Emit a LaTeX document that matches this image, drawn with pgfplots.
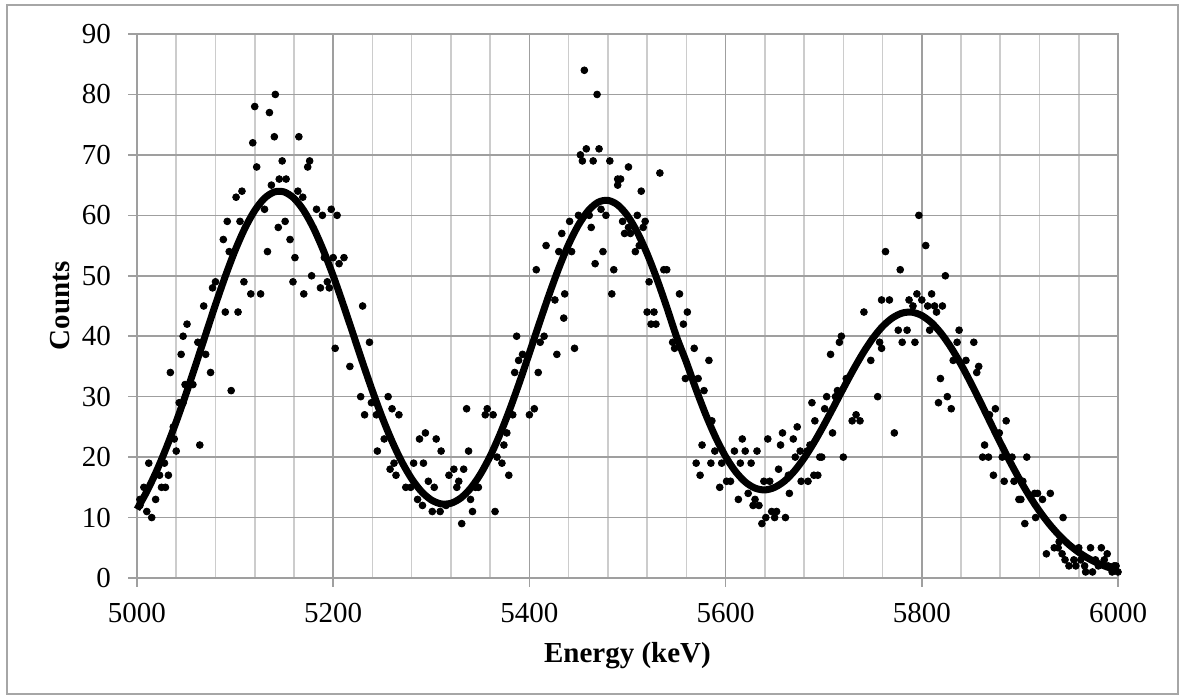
\documentclass[border=0pt]{standalone}
\usepackage{fontspec}
\setmainfont{Liberation Serif}
\usepackage{pgfplots}
\pgfplotsset{compat=1.18}
\begin{document}
\begin{tikzpicture}
\useasboundingbox (-68.5pt,-61pt) rectangle (523.5pt,289pt);
\draw[gray!70, line width=0.8pt] (-65pt,-58pt) rectangle (520.5pt,286.5pt);
\begin{axis}[
  at={(0,0)}, anchor=south west,
  scale only axis, width=490.5pt, height=272pt,
  xmin=5000, xmax=6000, ymin=0, ymax=90,
  xtick={5000,5200,5400,5600,5800,6000},
  minor x tick num=4,
  ytick={0,10,20,30,40,50,60,70,80,90},
  grid=both,
  major grid style={gray!75, line width=0.8pt},
  minor grid style={gray!40, line width=0.8pt},
  axis line style={gray!75, line width=0.8pt},
  tick align=outside,
  major tick length=4.5pt, minor tick length=0pt,
  tick style={gray!75, line width=0.8pt},
  xtick pos=bottom, ytick pos=left,
  /pgf/number format/1000 sep={},
  /pgf/number format/assume math mode=true,
  tick label style={font=\fontsize{14.5}{17}\selectfont, text=black},
  xticklabel style={yshift=-4.5pt},
  yticklabel style={xshift=-5pt},
  xlabel={Energy (keV)}, ylabel={Counts},
  label style={font=\bfseries\fontsize{14.5}{17}\selectfont},
  xlabel style={at={(axis description cs:0.5,-0.1176)}, anchor=north, inner sep=0pt},
  ylabel style={at={(axis description cs:-0.0683,0.5)}, anchor=base, inner sep=0pt},
  clip=false,
]
\addplot[only marks, mark=*, mark size=1.7pt, black] coordinates {
(5141,80)(5120,78)(5135,77)(5118,72)(5140,73)(5165,73)(5122,68)(5148,69)(5145,66)(5152,66)
(5137,65)(5101,63)(5107,64)(5130,61)(5092,59)(5105,59)(5144,58)(5151,59)(5088,56)(5156,56)
(5094,54)(5133,54)(5161,53)(5109,49)(5116,47)(5126,47)(5159,49)(5170,47)(5077,48)(5080,49)
(5090,44)(5103,44)(5068,45)(5051,42)(5047,40)(5062,39)(5066,39)(5070,37)(5045,37)(5034,34)
(5075,34)(5049,32)(5057,32)(5096,31)(5043,29)(5047,29)(5037,25)(5038,23)(5040,21)(5064,22)
(5012,19)(5028,19)(5023,17)(5032,17)(5025,15)(5029,15)(5007,15)(5019,13)(5003,13)(5010,11)
(5015,10)(5003,12)
(5176,69)(5174,68)(5164,64)(5169,63)(5183,61)(5189,60)(5198,61)(5204,60)(5191,53)(5200,53)
(5211,53)(5206,52)(5178,50)(5194,49)(5196,48)(5187,48)(5230,45)(5202,38)(5237,39)(5217,35)
(5228,30)(5256,30)(5260,28)(5267,27)(5232,27)(5239,29)(5244,27)(5252,23)(5245,21)(5288,23)
(5294,24)(5305,23)(5310,21)(5336,28)(5338,21)(5258,18)(5262,19)(5264,17)(5282,19)(5292,19)
(5274,15)(5279,15)(5297,16)(5303,15)(5286,13)(5291,12)(5301,11)(5309,11)(5315,12)(5331,9)
(5318,17)(5323,18)(5333,18)(5326,15)(5328,16)(5340,13)(5342,11)
(5456,84)(5469,80)(5452,70)(5458,71)(5471,71)(5454,69)(5465,69)(5482,69)(5501,68)(5490,66)
(5493,66)(5490,65)(5514,64)(5473,61)(5478,60)(5461,60)(5463,58)(5450,60)(5441,59)(5495,59)
(5501,58)(5503,57)(5497,57)(5510,60)(5508,54)(5417,55)(5433,57)(5430,54)(5443,54)(5475,54)
(5467,52)(5486,51)(5484,47)(5407,51)(5436,47)(5426,46)(5435,43)(5415,40)(5411,39)(5387,40)
(5428,37)(5446,38)(5409,34)(5385,34)(5389,36)(5393,37)(5405,28)(5400,27)(5383,27)(5363,27)
(5355,27)(5357,28)(5377,24)(5374,22)(5367,20)(5372,19)(5379,17)(5348,15)(5345,15)(5365,11)
(5533,67)(5518,59)(5516,58)(5512,55)(5537,51)(5540,51)(5522,49)(5553,47)(5520,44)(5527,44)
(5561,44)(5524,42)(5529,42)(5557,42)(5546,39)(5548,38)(5568,38)(5583,36)(5559,33)(5572,33)
(5578,31)(5586,26)(5576,22)(5570,19)(5585,19)(5574,17)(5589,21)(5596,19)(5609,21)(5620,21)
(5632,21)(5615,19)(5626,19)(5617,23)(5594,15)(5601,16)(5605,16)(5613,13)(5623,14)(5628,12)
(5630,13)(5634,12)(5637,9)(5641,10)(5647,11)(5652,11)(5650,10)(5661,10)(5639,16)(5645,16)
(5643,23)(5656,22)(5658,24)(5669,23)(5673,25)(5654,18)(5665,14)(5664,17)(5671,20)(5676,21)
(5683,21)(5686,22)(5677,16)(5684,16)(5688,29)(5691,26)
(5797,60)(5804,55)(5763,54)(5778,51)(5824,50)(5759,46)(5767,46)(5741,44)(5787,46)(5795,47)
(5800,46)(5791,45)(5806,45)(5810,47)(5813,45)(5821,45)(5815,44)(5776,41)(5785,41)(5780,39)
(5793,39)(5808,41)(5838,41)(5836,39)(5853,39)(5759,38)(5748,36)(5757,39)(5707,37)(5716,39)
(5718,40)(5832,36)(5845,36)(5858,35)(5856,34)(5819,33)(5723,33)(5714,31)(5703,30)(5712,30)
(5755,30)(5817,29)(5826,30)(5830,28)(5701,28)(5729,26)(5733,27)(5737,26)(5709,24)(5772,24)
(5864,22)(5862,20)(5696,20)(5698,20)(5720,20)(5690,17)(5694,17)
(5875,28)(5869,27)(5886,26)(5879,24)(5868,20)(5882,20)(5892,20)(5907,20)(5873,17)(5884,16)
(5894,16)(5903,16)(5899,13)(5901,13)(5915,14)(5918,14)(5923,13)(5931,14)(5905,9)(5916,10)
(5944,10)(5927,4)(5935,5)(5939,5)(5943,4)(5946,3)(5950,2)(5955,3)(5957,2)(5960,5)
(5972,5)(5983,5)(5966,2)(5974,1)(5967,1)(5977,3)(5989,4)(5986,3)(5996,2)(6000,1)
(5990,2)(5994,1)(5998,2)(5980,2)(5962,3)(5940,6)
};
\addplot[black, line width=3.5pt, smooth, no marks] coordinates {
(5000,11.37)(5010,14.31)(5020,17.72)(5030,21.59)(5040,25.86)(5050,30.48)(5060,35.34)
(5070,40.31)(5080,45.23)(5090,49.91)(5100,54.19)(5110,57.87)(5120,60.79)(5130,62.83)
(5140,63.87)(5150,63.87)(5160,62.83)(5170,60.79)(5180,57.87)(5190,54.19)(5200,49.99)
(5210,45.35)(5220,40.51)(5230,35.64)(5240,30.94)(5250,26.55)(5260,22.61)(5270,19.20)
(5280,16.41)(5290,14.30)(5300,12.91)(5310,12.26)(5320,12.36)(5330,13.22)(5340,14.83)
(5350,17.16)(5360,20.16)(5370,23.77)(5380,27.90)(5390,32.43)(5400,37.22)(5410,42.08)
(5420,46.84)(5430,51.28)(5440,55.20)(5450,58.40)(5460,60.77)(5470,62.16)(5480,62.48)
(5490,61.72)(5500,59.94)(5510,57.20)(5520,53.65)(5530,49.46)(5540,44.81)(5550,39.90)
(5560,35.71)(5570,31.15)(5580,26.94)(5590,23.22)(5600,20.09)(5610,17.64)(5620,15.89)
(5630,14.87)(5640,14.57)(5650,14.99)(5660,16.03)(5670,17.67)(5680,19.82)(5690,22.38)
(5700,25.24)(5710,28.28)(5720,31.37)(5730,34.39)(5740,37.19)(5750,39.64)(5760,41.62)
(5770,43.02)(5780,43.83)(5790,43.97)(5800,43.42)(5810,42.22)(5820,40.41)(5830,38.08)
(5840,35.33)(5850,32.27)(5860,29.02)(5870,25.69)(5880,22.39)(5890,19.21)(5900,16.23)
(5910,13.49)(5920,11.05)(5930,8.91)(5940,7.07)(5950,5.52)(5960,4.25)(5970,3.22)
(5980,2.40)(5990,1.76)(6000,1.27)
};
\end{axis}
\end{tikzpicture}
\end{document}
